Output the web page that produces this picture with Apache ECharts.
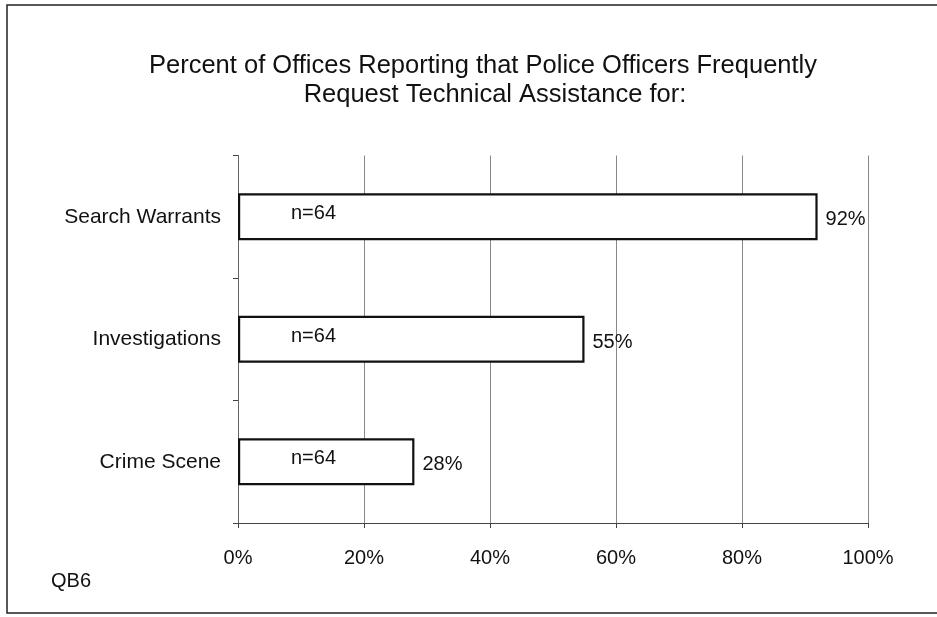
<!DOCTYPE html>
<html>
<head>
<meta charset="utf-8">
<script src="https://cdn.jsdelivr.net/npm/echarts@6/dist/echarts.min.js"></script>
<style>
html,body{margin:0;padding:0;background:#fff;}
#c{width:937px;height:617px;}
</style>
</head>
<body>
<div id="c"></div>
<script>
const titleLines = ['Percent of Offices Reporting that Police Officers Frequently', 'Request Technical Assistance for:'];
const categories = ['Search Warrants', 'Investigations', 'Crime Scene'];
const percentValues = [92, 55, 28];
const nValues = [64, 64, 64];
const xTicks = [0, 20, 40, 60, 80, 100];
const footnote = 'QB6';

const FONT = '"Liberation Sans", Arial, sans-serif';
const chart = echarts.init(document.getElementById('c'), null, {renderer: 'canvas'});
chart.setOption({
  backgroundColor: '#fff',
  animation: false,
  title: [
    {text: titleLines[0], left: 478, top: 48, textAlign: 'center',
     textStyle: {fontFamily: FONT, fontSize: 25.5, fontWeight: 'normal', color: '#111'}},
    {text: titleLines[1], left: 490, top: 77, textAlign: 'center',
     textStyle: {fontFamily: FONT, fontSize: 25.5, fontWeight: 'normal', color: '#111'}}
  ],
  grid: {left: 238, right: 69, top: 155.5, bottom: 94, containLabel: false},
  xAxis: {
    type: 'value', min: xTicks[0], max: xTicks[xTicks.length - 1], interval: 20,
    axisLine: {show: true, lineStyle: {color: '#444', width: 1}},
    axisTick: {show: true, length: 5, lineStyle: {color: '#444'}},
    axisLabel: {formatter: '{value}%', fontFamily: FONT, fontSize: 20, color: '#111', margin: 25},
    splitLine: {show: true, lineStyle: {color: '#888', width: 1}}
  },
  yAxis: {
    type: 'category', data: categories, inverse: true,
    axisLine: {show: true, lineStyle: {color: '#666', width: 1}},
    axisTick: {show: true, length: 5, lineStyle: {color: '#444'}},
    axisLabel: {fontFamily: FONT, fontSize: 21, color: '#111', margin: 17}
  },
  series: [
    {
      type: 'bar', data: percentValues, barWidth: 47,
      itemStyle: {color: '#fff', borderColor: '#111', borderWidth: 2.2},
      label: {show: true, position: 'right', distance: 8, offset: [0, 3],
              formatter: p => p.value + '%', fontFamily: FONT, fontSize: 20, color: '#111'},
      z: 2
    },
    {
      type: 'bar', data: percentValues, barWidth: 47, barGap: '-100%',
      itemStyle: {color: 'rgba(0,0,0,0)', borderWidth: 0},
      label: {show: true, position: 'insideLeft', distance: 53, offset: [0, -3],
              formatter: p => 'n=' + nValues[p.dataIndex], fontFamily: FONT, fontSize: 20, color: '#111'},
      z: 3, silent: true
    }
  ],
  graphic: [
    {type: 'rect', shape: {x: 7, y: 5, width: 960, height: 608},
     style: {fill: 'none', stroke: '#222', lineWidth: 1.5}, silent: true},
    {type: 'text', x: 51, y: 581,
     style: {text: footnote, font: '20px ' + FONT, fill: '#111', verticalAlign: 'middle'}}
  ]
});
</script>
</body>
</html>
